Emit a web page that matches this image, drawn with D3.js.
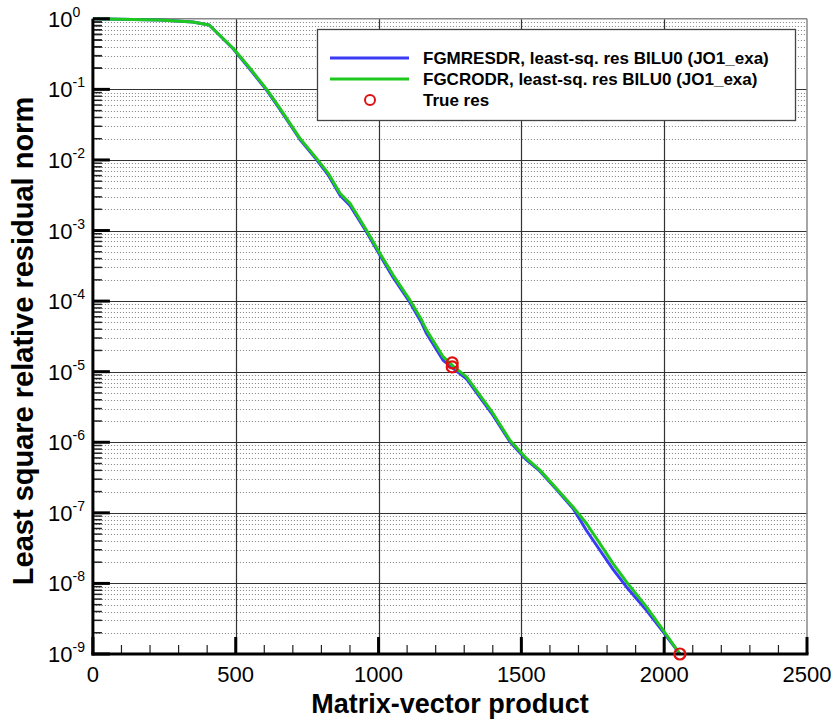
<!DOCTYPE html>
<html>
<head>
<meta charset="utf-8">
<script src="https://cdn.jsdelivr.net/npm/d3@7"></script>
<style>
  html, body { margin: 0; padding: 0; background: #fff; }
  svg { display: block; font-family: "Liberation Sans", Arial, Helvetica, sans-serif; }
</style>
</head>
<body>
<svg id="chart" width="836" height="720"></svg>
<script>
// ---------------- data ----------------
const mvp = [0, 235, 350, 407, 491, 550, 608, 655, 725, 783, 824, 865, 900, 958, 1005, 1051, 1110, 1151, 1168, 1226, 1261, 1308, 1401, 1460, 1518, 1565, 1623, 1681, 1728, 1775, 1821, 1868, 1938, 1997, 2055];
const fgmresdr = [1.0, 0.962, 0.902, 0.817, 0.376, 0.193, 0.0977, 0.0519, 0.0195, 0.01012, 0.0061, 0.00316, 0.00226, 9.55e-4, 4.47e-4, 2.16e-4, 9.55e-5, 4.90e-5, 3.47e-5, 1.45e-5, 1.12e-5, 7.94e-6, 2.40e-6, 1.02e-6, 5.62e-7, 3.89e-7, 2.14e-7, 1.15e-7, 5.62e-8, 2.95e-8, 1.58e-8, 8.91e-9, 4.17e-9, 2.04e-9, 1.0e-9];
const fgcrodr = [1.0, 0.962, 0.902, 0.817, 0.382, 0.199, 0.101, 0.0538, 0.0202, 0.01054, 0.00646, 0.00337, 0.00243, 0.00101, 4.74e-4, 2.34e-4, 1.03e-4, 5.38e-5, 3.88e-5, 1.63e-5, 1.20e-5, 8.45e-6, 2.56e-6, 1.07e-6, 5.89e-7, 4.03e-7, 2.21e-7, 1.21e-7, 7.06e-8, 3.67e-8, 1.91e-8, 1.05e-8, 4.65e-9, 2.17e-9, 1.0e-9];
const trueResX = [1258, 1258, 2055];
const trueResY = [1.33e-5, 1.17e-5, 1.0e-9];
const xTicks = [0, 500, 1000, 1500, 2000, 2500];
const yExponents = [0, -1, -2, -3, -4, -5, -6, -7, -8, -9];
const legendLabels = ["FGMRESDR, least-sq. res BILU0 (JO1_exa)", "FGCRODR, least-sq. res BILU0 (JO1_exa)", "True res"];
const xTitle = "Matrix-vector product";
const yTitle = "Least square relative residual norm";

// ---------------- layout ----------------
const L = 92.9, R = 807, T = 18.8, B = 654;
const svg = d3.select("#chart");
const x = d3.scaleLinear().domain([0, 2500]).range([L, R]);
const y = d3.scaleLog().domain([1, 1e-9]).range([T, B]);

const blue = "#3b3bf5", green = "#1ec81e", red = "#e01010";

// minor horizontal grid (dotted)
const minorY = [];
yExponents.slice(1).forEach(e => { for (let k = 2; k <= 9; k++) minorY.push(k * Math.pow(10, e)); });
svg.append("g").selectAll("line").data(minorY).join("line")
  .attr("x1", L).attr("x2", R)
  .attr("y1", d => Math.round(y(d)) + 0.5).attr("y2", d => Math.round(y(d)) + 0.5)
  .attr("stroke", "#808080").attr("stroke-width", 1).attr("stroke-dasharray", "1,2");

// major grid
svg.append("g").selectAll("line").data(yExponents.slice(1, -1)).join("line")
  .attr("x1", L).attr("x2", R)
  .attr("y1", d => Math.round(y(Math.pow(10, d))) + 0.5).attr("y2", d => Math.round(y(Math.pow(10, d))) + 0.5)
  .attr("stroke", "#333").attr("stroke-width", 1.2);
svg.append("g").selectAll("line").data(xTicks.slice(1, -1)).join("line")
  .attr("y1", T).attr("y2", B)
  .attr("x1", d => Math.round(x(d)) + 0.5).attr("x2", d => Math.round(x(d)) + 0.5)
  .attr("stroke", "#333").attr("stroke-width", 1.2);

// frame top/right
svg.append("line").attr("x1", L).attr("x2", R).attr("y1", T).attr("y2", T).attr("stroke", "#888").attr("stroke-width", 1.5);
svg.append("line").attr("x1", R).attr("x2", R).attr("y1", T).attr("y2", B).attr("stroke", "#888").attr("stroke-width", 1.5);

// curves
const line = d3.line().x(d => x(d[0])).y(d => y(d[1]));
svg.append("path").datum(mvp.map((v, i) => [v, fgmresdr[i]])).attr("d", line)
  .attr("fill", "none").attr("stroke", blue).attr("stroke-width", 3).attr("stroke-linejoin", "round");
svg.append("path").datum(mvp.map((v, i) => [v, fgcrodr[i]])).attr("d", line)
  .attr("fill", "none").attr("stroke", green).attr("stroke-width", 3).attr("stroke-linejoin", "round");

// axes (custom tecplot style)
const ax = svg.append("g");
ax.selectAll(".ymin").data(minorY.concat([2,3,4,5,6,7,8,9].map(k => k * 0.1))).join("line")
  .attr("x1", L).attr("x2", L + 9)
  .attr("y1", d => y(d)).attr("y2", d => y(d))
  .attr("stroke", "#222").attr("stroke-width", 1.5);
ax.selectAll(".ymaj").data(yExponents).join("line")
  .attr("x1", L).attr("x2", L + 17)
  .attr("y1", d => y(Math.pow(10, d))).attr("y2", d => y(Math.pow(10, d)))
  .attr("stroke", "#000").attr("stroke-width", 3);
const minorX = d3.range(100, 2500, 100).filter(v => v % 500 !== 0);
ax.selectAll(".xmin").data(minorX).join("line")
  .attr("x1", d => x(d)).attr("x2", d => x(d))
  .attr("y1", B).attr("y2", B - 9)
  .attr("stroke", "#222").attr("stroke-width", 1.2);
ax.selectAll(".xmaj").data(xTicks).join("line")
  .attr("x1", d => x(d)).attr("x2", d => x(d))
  .attr("y1", B).attr("y2", B - 17)
  .attr("stroke", "#000").attr("stroke-width", 3);
ax.append("line").attr("x1", L).attr("x2", L).attr("y1", T).attr("y2", B + 1.5).attr("stroke", "#000").attr("stroke-width", 3);
ax.append("line").attr("x1", L - 1.5).attr("x2", R + 1.5).attr("y1", B).attr("y2", B).attr("stroke", "#000").attr("stroke-width", 3);

// true res markers
svg.append("g").selectAll("circle").data(trueResX.map((v, i) => [v, trueResY[i]])).join("circle")
  .attr("cx", d => x(d[0])).attr("cy", d => y(d[1])).attr("r", 5.5)
  .attr("fill", "none").attr("stroke", red).attr("stroke-width", 2.2);

// x tick labels
svg.append("g").selectAll("text").data(xTicks).join("text")
  .attr("x", d => x(d)).attr("y", B + 28)
  .attr("text-anchor", "middle").attr("font-size", 22)
  .text(d => d);

// y tick labels
const yl = svg.append("g").selectAll("text").data(yExponents).join("text")
  .attr("x", 48).attr("y", d => y(Math.pow(10, d)) + 8)
  .attr("font-size", 22);
yl.append("tspan").text("10");
yl.append("tspan").attr("font-size", 14).attr("dy", -10).text(d => d);

// titles
svg.append("text").attr("x", (L + R) / 2).attr("y", 713)
  .attr("text-anchor", "middle").attr("font-size", 27).attr("font-weight", "bold").text(xTitle);
svg.append("text").attr("transform", "translate(33,341) rotate(-90)")
  .attr("text-anchor", "middle").attr("font-size", 29).attr("font-weight", "bold").text(yTitle);

// legend
const lg = svg.append("g");
lg.append("rect").attr("x", 317.5).attr("y", 29.5).attr("width", 478).attr("height", 91)
  .attr("fill", "#fff").attr("stroke", "#444").attr("stroke-width", 1.3);
const rowsY = [58, 79, 100];
lg.append("line").attr("x1", 330).attr("x2", 409).attr("y1", rowsY[0]).attr("y2", rowsY[0]).attr("stroke", blue).attr("stroke-width", 3);
lg.append("line").attr("x1", 330).attr("x2", 409).attr("y1", rowsY[1]).attr("y2", rowsY[1]).attr("stroke", green).attr("stroke-width", 3);
lg.append("circle").attr("cx", 370).attr("cy", rowsY[2]).attr("r", 5).attr("fill", "none").attr("stroke", red).attr("stroke-width", 2);
lg.selectAll("text").data(legendLabels).join("text")
  .attr("x", 423).attr("y", (d, i) => rowsY[i] + 6)
  .attr("font-size", 17).attr("font-weight", "bold").text(d => d);
</script>
</body>
</html>
